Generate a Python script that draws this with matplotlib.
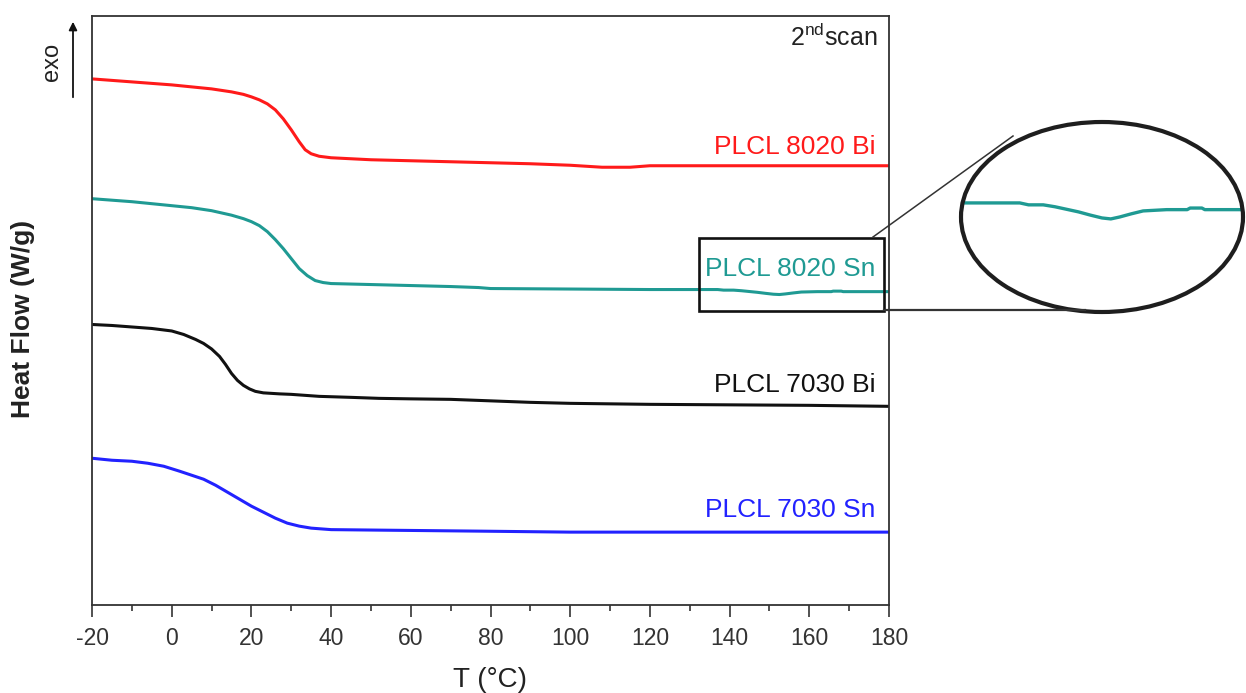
import numpy as np
import matplotlib
matplotlib.use("Agg")
import matplotlib.pyplot as plt
from matplotlib.patches import Ellipse, Rectangle, FancyArrowPatch
from matplotlib.lines import Line2D
from matplotlib.ticker import MultipleLocator

plt.rcParams['font.family'] = ['Liberation Sans', 'DejaVu Sans']
plt.rcParams['mathtext.fontset'] = 'custom'
plt.rcParams['mathtext.rm'] = 'Liberation Sans'
plt.rcParams['axes.unicode_minus'] = False

# DSC second-heating traces (heat flow, stacked with offsets, arbitrary units)
t_8020_bi = [-20, -15, -10, -5, 0, 5, 10, 15, 18, 20, 22, 24, 26, 28, 30, 32, 33.5,
             35, 37, 40, 50, 60, 70, 80, 90, 100, 108, 115, 120, 180]
hf_8020_bi = [527, 525.5, 524, 522.5, 521, 519, 517, 514, 511.5, 509, 506, 502, 496,
              487, 476, 464, 456, 452, 449.5, 448, 446, 445, 444, 443, 442, 440.5,
              438.5, 438.5, 440, 440]

t_8020_sn = [-20, -15, -10, -5, 0, 5, 10, 15, 18, 20, 22, 24, 26, 28, 30, 32, 34, 36,
             38, 40, 50, 60, 70, 77, 80, 100, 120, 130, 137, 138.5, 141, 143, 145,
             147, 149, 151, 152.5, 154, 156, 158, 162, 165.5, 166, 168, 168.5, 172,
             180]
hf_8020_sn = [407, 405.5, 404, 402, 400, 398, 395, 390.5, 387, 384, 380, 374, 366,
              357, 347, 337, 330, 325, 323, 322, 321, 320, 319, 318, 317, 316.5, 316,
              316, 316, 315.4, 315.4, 314.8, 314, 313.2, 312.2, 311.3, 311, 311.6,
              312.6, 313.5, 313.9, 313.9, 314.4, 314.4, 313.9, 313.9, 313.9]

t_7030_bi = [-20, -15, -10, -5, 0, 3, 6, 8, 10, 12, 13.5, 15, 16.5, 18, 19.5, 21, 23,
             27, 30, 37, 45, 52, 60, 70, 80, 90, 100, 120, 140, 160, 170, 180]
hf_7030_bi = [281, 280, 278.5, 277, 274.5, 271, 266, 262, 256.5, 249, 241, 232, 225,
              220, 216.5, 214, 212.5, 211.5, 211, 209, 208, 207, 206.5, 206, 204.5,
              203, 202, 201, 200.5, 200, 199.5, 199]

t_7030_sn = [-20, -15, -10, -6, -2, 2, 5, 8, 11, 14, 17, 20, 23, 26, 29, 32, 35, 40,
             52, 77, 100, 180]
hf_7030_sn = [147, 145, 144, 142, 139, 134, 130, 126, 120, 113, 106, 99, 93, 87, 82,
              79, 77, 75.5, 75, 74, 73, 73]

series = [
    ("PLCL 8020 Bi", t_8020_bi, hf_8020_bi, "#ff1a1a", 452),
    ("PLCL 8020 Sn", t_8020_sn, hf_8020_sn, "#1f9a93", 330),
    ("PLCL 7030 Bi", t_7030_bi, hf_7030_bi, "#111111", 213),
    ("PLCL 7030 Sn", t_7030_sn, hf_7030_sn, "#2222ff", 88),
]

x_ticks = list(range(-20, 181, 20))
zoom_box = (132.3, 295, 46.4, 73)     # x0, y0, width, height of the marked region
inset_xlim = (127, 175)
inset_ylim = (281.9, 341.3)

W, H = 1246, 693
fig = plt.figure(figsize=(W / 100, H / 100), dpi=100)

def fx(px):
    return px / W

def fy(py):
    return 1 - py / H

ax = fig.add_axes([fx(92), fy(605), (889 - 92) / W, (605 - 16) / H])
ax.set_xlim(-20, 180)
ax.set_ylim(0, 590)

for name, t, hf, col, ylab in series:
    ax.plot(t, hf, color=col, lw=2.2, solid_joinstyle='round')
    ax.text(176.5, ylab, name, color=col, fontsize=19, ha='right', va='baseline')

ax.text(177.2, 560, r"2$^{\mathrm{nd}}$scan", color='#222222', fontsize=18,
        ha='right', va='baseline')

ax.set_xticks(x_ticks)
ax.xaxis.set_minor_locator(MultipleLocator(10))
ax.set_yticks([])
ax.tick_params(axis='x', which='major', length=8.5, width=1.2, pad=7,
               labelsize=16.5, color='#333333', labelcolor='#333333')
ax.tick_params(axis='x', which='minor', length=4.3, width=1.2, color='#333333')
for sp in ax.spines.values():
    sp.set_color('#333333')
    sp.set_linewidth(1.3)

# marked region on the 8020 Sn trace
ax.add_patch(Rectangle((zoom_box[0], zoom_box[1]), zoom_box[2], zoom_box[3],
                       fill=False, ec='#111111', lw=1.9, clip_on=False, zorder=5))

fig.text(fx(490), fy(687), "T (°C)", fontsize=20, ha='center', va='baseline',
         color='#222222')
fig.text(fx(23), fy(319), "Heat Flow (W/g)", fontsize=19, fontweight='bold',
         rotation=90, ha='center', va='center', color='#222222')

# exo direction marker
fig.text(fx(52), fy(62), "exo", fontsize=17, rotation=90, ha='center', va='center',
         color='#222222')
fig.add_artist(FancyArrowPatch((fx(73), fy(100)), (fx(73), fy(19)),
                               transform=fig.transFigure, arrowstyle='-|>',
                               mutation_scale=12, lw=1.3, color='#111111'))

# magnified view of the marked region
ex0, ey0, ew, eh = 961, 122, 282, 190
ax_in = fig.add_axes([fx(ex0), fy(ey0 + eh), ew / W, eh / H])
ax_in.set_xlim(*inset_xlim)
ax_in.set_ylim(*inset_ylim)
ax_in.axis('off')
clip = Ellipse((0.5, 0.5), 1, 1, transform=ax_in.transAxes, fc='none', ec='none')
ax_in.add_patch(clip)
ln, = ax_in.plot(t_8020_sn, hf_8020_sn, color="#1f9a93", lw=2.4)
ln.set_clip_path(clip)
fig.add_artist(Ellipse((fx(ex0 + ew / 2), fy(ey0 + eh / 2)), ew / W, eh / H,
                       transform=fig.transFigure, fc='none', ec='#1e1e1e', lw=3.0))

fig.add_artist(Line2D([fx(873), fx(1013)], [fy(237), fy(136)],
                      transform=fig.transFigure, color='#333333', lw=1.1))
fig.add_artist(Line2D([fx(884), fx(1085)], [fy(310), fy(310)],
                      transform=fig.transFigure, color='#333333', lw=1.6))

fig.savefig("out.png", dpi=100)
